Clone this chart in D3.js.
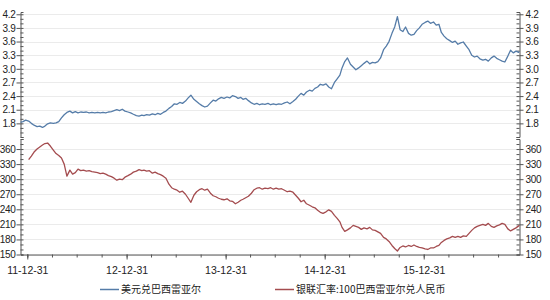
<!DOCTYPE html>
<html>
<head>
<meta charset="utf-8">
<script src="https://cdnjs.cloudflare.com/ajax/libs/d3/7.8.5/d3.min.js"></script>
<style>
    body { margin: 0; background: #fff; }
    #graphic text { font-family: "Noto Sans CJK SC", "Noto Sans", sans-serif; fill: #222; }
    #graphic .tick text { font-family: "Liberation Sans", Arial, sans-serif; }
    .domain { stroke: #555; }
    .tick line { stroke: #555; }
    .grid line { stroke: #ebebeb; }
</style>
</head>
<body>
<div id="graphic"></div>
<script>
// Global vars
var months = [
    '2011-12',
    '2012-01','2012-02','2012-03','2012-04','2012-05','2012-06','2012-07','2012-08','2012-09','2012-10','2012-11','2012-12',
    '2013-01','2013-02','2013-03','2013-04','2013-05','2013-06','2013-07','2013-08','2013-09','2013-10','2013-11','2013-12',
    '2014-01','2014-02','2014-03','2014-04','2014-05','2014-06','2014-07','2014-08','2014-09','2014-10','2014-11','2014-12',
    '2015-01','2015-02','2015-03','2015-04','2015-05','2015-06','2015-07','2015-08','2015-09','2015-10','2015-11','2015-12',
    '2016-01','2016-02','2016-03','2016-04','2016-05','2016-06','2016-07','2016-08','2016-09','2016-10','2016-11','2016-12'
];
// three readings per month: day 5, 15, 25
var sampleDays = [5, 15, 25];

// 美元兑巴西雷亚尔
var usdBrl = [
    1.82,1.84,1.87,
    1.85,1.80,1.76, 1.73,1.74,1.71, 1.74,1.79,1.81, 1.80,1.81,1.84, 1.92,1.99,2.04, 2.07,2.03,2.06,
    2.03,2.05,2.04, 2.05,2.03,2.04, 2.03,2.04,2.03, 2.04,2.03,2.05, 2.06,2.08,2.10, 2.08,2.11,2.07,
    2.05,2.03,2.00, 1.97,1.96,1.98, 1.97,1.99,1.98, 2.01,1.99,2.02, 2.00,2.04,2.07, 2.13,2.17,2.23,
    2.22,2.26,2.24, 2.29,2.36,2.42, 2.33,2.28,2.23, 2.19,2.16,2.18, 2.25,2.31,2.29, 2.34,2.37,2.35,
    2.38,2.36,2.41, 2.39,2.35,2.37, 2.33,2.35,2.30, 2.25,2.22,2.24, 2.21,2.23,2.22, 2.24,2.21,2.23,
    2.21,2.23,2.22, 2.25,2.27,2.23, 2.28,2.33,2.40, 2.46,2.42,2.49, 2.53,2.51,2.57, 2.60,2.66,2.64,
    2.67,2.60,2.56, 2.70,2.78,2.86, 3.02,3.16,3.24, 3.10,3.04,2.98, 3.02,3.07,3.12, 3.17,3.11,3.14,
    3.13,3.16,3.24, 3.42,3.50,3.60, 3.78,3.92,4.15, 3.86,3.82,3.92, 3.78,3.74,3.76, 3.84,3.90,3.98,
    4.02,4.05,4.00, 4.03,3.96,3.98, 3.80,3.72,3.66, 3.62,3.58,3.61, 3.54,3.57,3.59, 3.50,3.42,3.30,
    3.26,3.28,3.22, 3.19,3.21,3.17, 3.24,3.28,3.23, 3.20,3.17,3.15, 3.28,3.41,3.35, 3.39,3.36,3.40
];

// 银联汇率:100巴西雷亚尔兑人民币
var brlCny = [
    null,null,null,
    339,346,354, 360,364,368, 371,372,366, 358,351,347, 342,330,306, 318,310,313,
    320,317,318, 316,317,315, 314,313,311, 312,310,307, 305,302,298, 300,299,304,
    307,310,314, 316,319,317, 318,316,317, 312,314,311, 309,306,302, 290,283,280,
    278,274,276, 270,262,254, 268,275,279, 281,278,280, 272,267,265, 262,260,259,
    261,257,256, 251,254,258, 260,263,266, 272,279,282, 283,280,282, 281,283,280,
    282,280,281, 278,275,276, 274,268,262, 255,258,251, 248,245,243, 238,234,232,
    235,239,236, 228,222,215, 204,196,199, 203,208,206, 204,200,203, 201,204,199,
    198,195,192, 184,181,176, 168,162,157, 164,167,165, 168,166,169, 166,164,163,
    161,160,163, 163,166,168, 174,178,181, 183,186,184, 186,184,187, 186,192,198,
    203,206,208, 210,208,212, 206,204,207, 209,212,210, 201,197,200, 203,207,210
];

var topTicks = [1.8, 2.1, 2.4, 2.7, 3.0, 3.3, 3.6, 3.9, 4.2];
var bottomTicks = [150, 180, 210, 240, 270, 300, 330, 360];
var yearTicks = ['2011-12-31', '2012-12-31', '2013-12-31', '2014-12-31', '2015-12-31'];

var seriesNames = ['美元兑巴西雷亚尔', '银联汇率:100巴西雷亚尔兑人民币'];

var colors = {
    'blue': '#557ca8',
    'red': '#a44c4f'
};

/*
 * Render the graphic.
 */
var renderGraphic = function() {
    var width = 550,
        height = 300;

    var parseDate = d3.timeParse('%Y-%m-%d');

    var dates = [];
    months.forEach(function(m) {
        sampleDays.forEach(function(day) {
            dates.push(parseDate(m + '-' + (day < 10 ? '0' + day : day)));
        });
    });

    var svg = d3.select('#graphic').append('svg')
        .attr('width', width)
        .attr('height', height);

    var plotLeft = 20.5,
        plotRight = 519.5;

    var xScale = d3.scaleTime()
        .domain([parseDate('2011-12-06'), parseDate('2016-12-18')])
        .range([plotLeft, plotRight]);

    var yTop = d3.scaleLinear().domain([1.5, 4.25]).range([137, 12]);
    var yBottom = d3.scaleLinear().domain([150, 380]).range([254.5, 139]);

    svg.append('clipPath')
        .attr('id', 'plot-clip')
        .append('rect')
        .attr('x', plotLeft)
        .attr('y', 0)
        .attr('width', plotRight - plotLeft)
        .attr('height', height);

    // gridlines
    var drawGrid = function(scale, ticks) {
        svg.append('g')
            .attr('class', 'grid')
            .selectAll('line')
            .data(ticks)
            .enter().append('line')
            .attr('x1', plotLeft)
            .attr('x2', plotRight)
            .attr('y1', function(d) { return Math.round(scale(d)) + 0.5; })
            .attr('y2', function(d) { return Math.round(scale(d)) + 0.5; });
    };
    drawGrid(yTop, topTicks);
    drawGrid(yBottom, bottomTicks);

    // y axes, major ticks outside and minor ticks inside
    var drawYAxes = function(scale, ticks, minorStep, fmt) {
        var dom = scale.domain();
        var minor = d3.range(dom[0], dom[1] + 1e-9, minorStep);

        var left = svg.append('g')
            .attr('transform', 'translate(' + plotLeft + ',0)');
        left.call(d3.axisLeft(scale).tickValues(minor).tickSize(-3).tickFormat(''));
        left.append('g').call(d3.axisLeft(scale).tickValues(ticks).tickSize(4).tickSizeOuter(0).tickPadding(1).tickFormat(fmt))
            .select('.domain').remove();

        var right = svg.append('g')
            .attr('transform', 'translate(' + plotRight + ',0)');
        right.call(d3.axisRight(scale).tickValues(minor).tickSize(-3).tickFormat(''));
        right.append('g').call(d3.axisRight(scale).tickValues(ticks).tickSize(4).tickSizeOuter(0).tickPadding(2).tickFormat(fmt))
            .select('.domain').remove();

        svg.selectAll('.tick text')
            .style('font-size', '10px')
            .style('letter-spacing', '-0.3px');
    };
    drawYAxes(yTop, topTicks, 0.1, d3.format('.1f'));
    drawYAxes(yBottom, bottomTicks, 10, d3.format('d'));

    // x axis
    var quarterTicks = d3.timeMonth.range(parseDate('2012-01-01'), parseDate('2017-01-02'), 3)
        .map(function(d) { return d3.timeDay.offset(d, -1); });
    quarterTicks.unshift(parseDate('2011-12-31'));

    var xAxisG = svg.append('g')
        .attr('transform', 'translate(0,' + yBottom.range()[0] + ')');
    xAxisG.call(d3.axisBottom(xScale).tickValues(quarterTicks.filter(function(d) { return d <= xScale.domain()[1]; }))
        .tickSize(3).tickSizeOuter(0).tickFormat(''));
    xAxisG.append('g').call(d3.axisBottom(xScale).tickValues(yearTicks.map(parseDate))
        .tickSize(5).tickSizeOuter(0).tickPadding(7).tickFormat(d3.timeFormat('%y-%m-%d')))
        .select('.domain').remove();
    xAxisG.selectAll('text')
        .style('font-size', '10.5px')
        .style('letter-spacing', '0px');

    // lines
    var lineTop = d3.line()
        .x(function(d, i) { return xScale(dates[i]); })
        .y(function(d) { return yTop(d); });

    var lineBottom = d3.line()
        .defined(function(d) { return d !== null; })
        .x(function(d, i) { return xScale(dates[i]); })
        .y(function(d) { return yBottom(d); });

    svg.append('path')
        .datum(usdBrl)
        .attr('clip-path', 'url(#plot-clip)')
        .attr('fill', 'none')
        .attr('stroke', colors['blue'])
        .attr('stroke-width', 1.3)
        .attr('stroke-linejoin', 'round')
        .attr('d', lineTop);

    svg.append('path')
        .datum(brlCny)
        .attr('clip-path', 'url(#plot-clip)')
        .attr('fill', 'none')
        .attr('stroke', colors['red'])
        .attr('stroke-width', 1.3)
        .attr('stroke-linejoin', 'round')
        .attr('d', lineBottom);

    // legend
    var legendItems = [
        { name: seriesNames[0], color: colors['blue'], x: 100 },
        { name: seriesNames[1], color: colors['red'], x: 275 }
    ];

    var legend = svg.append('g')
        .attr('transform', 'translate(0,289)');

    legendItems.forEach(function(item) {
        legend.append('line')
            .attr('x1', item.x)
            .attr('x2', item.x + 19)
            .attr('y1', 0.5)
            .attr('y2', 0.5)
            .attr('stroke', item.color)
            .attr('stroke-width', 1.5);
        legend.append('text')
            .attr('x', item.x + 21)
            .attr('y', 0)
            .attr('dy', '0.35em')
            .style('font-size', '10px')
            .text(item.name);
    });
}

renderGraphic();
</script>
</body>
</html>
